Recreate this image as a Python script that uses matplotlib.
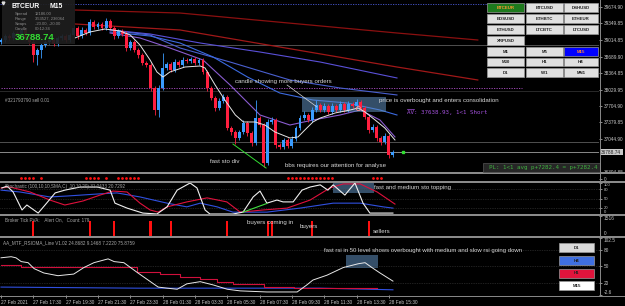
import matplotlib
matplotlib.use("Agg")
import matplotlib.pyplot as plt
from matplotlib.patches import Rectangle
import numpy as np

plt.rcParams['font.family'] = ['Liberation Sans', 'DejaVu Sans']

# ---------------- data ----------------
# BTCEUR M15 candles, 27 Feb 15:30 -> 28 Feb 15:45
first_open = 38979
closes = [39019, 39098, 39059, 39158, 39118, 39218, 39059, 38979, 38721, 38820,
          38919, 38979, 39019, 38939, 39059, 39098, 39019, 39118, 39257, 39098,
          39218, 39158, 39377, 39277, 39337, 39257, 39396, 39257, 39098, 39198,
          39138, 38860, 38979, 38820, 38721, 38562, 38522, 38065, 37627, 38065,
          38462, 38542, 38422, 38581, 38522, 38621, 38601, 38641, 38562, 38621,
          38383, 38065, 37866, 37667, 37806, 37886, 37269, 37190, 37071, 37190,
          37369, 37170, 36971, 37468, 37329, 36574, 37389, 37428, 36931, 36892,
          37031, 36911, 37051, 37269, 37468, 37528, 37428, 37627, 37727, 37627,
          37707, 37587, 37707, 37627, 37746, 37627, 37746, 37707, 37786, 37667,
          37488, 37230, 37289, 37071, 36991, 37110, 36733, 36789]
wick_up = [40, 40, 40, 40, 40, 40, 40, 40, 60, 40,
           40, 40, 40, 40, 40, 40, 40, 40, 60, 40,
           60, 40, 60, 40, 40, 40, 60, 40, 40, 40,
           40, 60, 40, 40, 40, 40, 40, 40, 40, 60,
           300, 40, 40, 60, 40, 60, 40, 40, 40, 40,
           40, 40, 40, 40, 60, 60, 40, 40, 40, 40,
           60, 40, 40, 360, 40, 40, 60, 60, 40, 40,
           40, 40, 60, 40, 60, 80, 40, 60, 100, 40,
           60, 40, 60, 40, 60, 40, 60, 40, 60, 40,
           40, 40, 60, 40, 40, 60, 40, 40]
wick_dn = [40, 40, 40, 40, 40, 40, 40, 40, 140, 200,
           160, 40, 40, 40, 40, 40, 40, 40, 40, 60,
           40, 40, 40, 40, 40, 40, 40, 40, 60, 40,
           40, 60, 40, 40, 60, 40, 40, 60, 100, 140,
           40, 40, 40, 40, 40, 40, 40, 40, 40, 40,
           40, 60, 40, 60, 40, 40, 40, 60, 120, 40,
           40, 60, 60, 40, 40, 80, 40, 40, 60, 40,
           40, 40, 40, 40, 40, 40, 40, 40, 40, 40,
           40, 40, 40, 40, 40, 40, 40, 40, 40, 40,
           40, 60, 40, 60, 60, 40, 60, 40]

price_ticks = [39674.90, 39349.85, 39014.85, 38689.90, 38364.85, 38029.95,
               37704.90, 37379.85, 37044.90, 36394.85]
time_labels = ['27 Feb 2021', '27 Feb 17:30', '27 Feb 19:30', '27 Feb 21:30',
               '27 Feb 23:30', '28 Feb 01:30', '28 Feb 03:30', '28 Feb 05:30',
               '28 Feb 07:30', '28 Feb 09:30', '28 Feb 11:30', '28 Feb 13:30',
               '28 Feb 15:30']
time_bars = [0, 8, 16, 24, 32, 40, 48, 56, 64, 72, 80, 88, 96]

# moving averages (bar index, price)
ma_fast_x = [18.3, 22, 25.7, 29.5, 32, 34.4, 36.9, 38.6, 40.1, 41.8, 45.5, 49.3, 50.5,
             53, 55.4, 58, 60, 62.9, 65.3, 67.8, 71.5, 73.5, 75.2, 77.2, 79, 82.7,
             86.4, 88.4, 90.1, 92.6, 95, 97.5]
ma_fast_y = [39059, 39178, 39237, 39198, 39118, 38919, 38621, 38383, 38283, 38383,
             38482, 38502, 38462, 38124, 37826, 37528, 37389, 37389, 37329, 37190,
             37071, 37091, 37230, 37389, 37468, 37568, 37627, 37667, 37587, 37428,
             37269, 37031]
ma1_x = [27, 34.4, 41.8, 50, 56.7, 64.1, 71.5, 77.2, 83.9, 88.9, 93.8, 97.5]
ma1_y = [39158, 39059, 38860, 38621, 38124, 37528, 37329, 37428, 37528, 37627, 37428, 37091]
ma2_x = [27, 36.9, 44.3, 52.5, 61, 69, 77.2, 85.6, 93.8, 98]
ma2_y = [39178, 39098, 38959, 38681, 38283, 37965, 37826, 37767, 37627, 37528]
ma3_x = [27, 36.9, 44.3, 56.7, 71.5, 83.9, 98]
ma3_y = [39218, 39118, 38860, 38581, 38224, 38065, 37926]
ma4_x = [27, 36.9, 49.3, 64.1, 79, 98]
ma4_y = [39218, 39138, 38959, 38780, 38581, 38264]
red1_x = [18.3, 44.3, 98, 118]
red1_y = [39615, 39555, 39158, 39019]
red2_x = [18.3, 44.3, 98, 118]
red2_y = [39337, 39218, 38482, 38224]

# red signal dots strip
dot_bars = [5, 6, 7, 8, 10, 21, 22, 23, 24, 26, 29, 30, 31, 32, 33, 34,
            71, 72, 73, 74, 75, 76, 77, 78, 79, 80, 81, 82, 92, 93, 94]

# stochastic
sto_fast_x = [0.2, 1.5, 3, 5.2, 6.4, 9.2, 10.9, 13.4, 15.8, 19.6, 23.8, 27, 28.2, 31.2,
              35.1, 38.6, 41.1, 43.6, 46.8, 48.5, 50.5, 51.7, 57.4, 59.9, 62.4, 64.1,
              65.8, 68.3, 69.8, 72.3, 74.5, 76.5, 79, 80.9, 82.2, 85.1, 87.6, 89.6,
              91.3, 93.8, 97]
sto_fast_y = [84, 90, 71, 13, 29, 3, 29, 68, 77, 87, 87, 77, 35, 19,
              3, 0, 23, 77, 100, 84, 13, 0, 0, 6, 55, 74,
              35, 45, 39, 39, 77, 87, 94, 77, 94, 61, 100, 35,
              3, 3, 3]
sto_med_x = [0, 2.2, 7.2, 12.1, 15.8, 20.3, 24.5, 27.7, 31.2, 34.4, 36.9, 38.9, 41.1,
             46, 51, 55.9, 59.2, 64.9, 70.8, 76.5, 81.4, 84.7, 88.9, 93.1, 97.5]
sto_med_y = [84, 87, 71, 45, 29, 42, 61, 74, 71, 35, 13, 6, 23,
             39, 52, 39, 6, 13, 19, 45, 84, 97, 97, 71, 32]
sto_slow_x = [0, 4.7, 12.1, 16.3, 24.5, 28.7, 34.4, 41.1, 46, 49.3, 53.5, 57.4, 65.8,
              74, 82.2, 88.9, 94.6, 97]
sto_slow_y = [77, 71, 55, 58, 65, 68, 55, 35, 23, 35, 23, 6, 6,
              19, 35, 35, 23, 19]

# broker tick PVA alerts
alert_bars = [8, 22, 28, 37, 42, 56, 66, 67, 77, 91]
alert_vals = [1100, 1100, 1100, 1100, 1100, 1100, 1100, 1100, 1100, 1100]

# RSIOMA
rsi_fast_x = [0, 2.5, 3.7, 5, 6.7, 8.2, 10.6, 14.1, 18, 20.5, 23, 26.5, 28, 30.4, 33.9,
              36.4, 38.9, 41.1, 43.6, 46, 49.3, 52.5, 56, 59.2, 65.8, 73.3, 75.7,
              77.2, 80.7, 84.7, 88.4, 90.1, 91.8, 93.8, 97]
rsi_fast_y = [66, 68, 66, 59, 57, 46, 38, 33, 36, 48, 57, 64, 59, 57, 38,
              25, 12, 10, 8, 18, 22, 16, 8, 5, 3, 3, 16,
              25, 34, 48, 55, 57, 48, 38, 23]
rsi_med_x = [0, 5, 33.7, 39.4, 44.3, 49.3, 53.4, 57.5, 65, 72.4, 93]
rsi_med_y = [53, 49, 40, 36, 31, 27, 21.5, 18, 12, 10, 10]
rsi_slow_x = [0, 33.7, 79, 97]
rsi_slow_y = [12, 10, 10, 7]

# ---------------- figure ----------------
W, H = 625, 306
fig = plt.figure(figsize=(W / 100, H / 100), dpi=100, facecolor='black')
PLOT_R = 599
XL = (-0.25, 148.0)
AX_COL = '#c8c8c8'
FS_AX = 3.4


def px_axes(x0, y0, x1, y1, fs=FS_AX):
    ax = fig.add_axes([x0 / W, 1 - y1 / H, (x1 - x0) / W, (y1 - y0) / H])
    ax.set_facecolor('black')
    for s in ax.spines.values():
        s.set_visible(False)
    ax.set_xlim(*XL)
    ax.set_xticks([])
    ax.yaxis.tick_right()
    ax.tick_params(axis='y', colors=AX_COL, labelsize=fs, length=2, width=0.5, pad=1.5)
    return ax


def edge_labels(ax):
    # MT4 draws the top label below the top edge and the bottom one above it
    labs = ax.get_yticklabels()
    labs[0].set_va('top')
    labs[-1].set_va('bottom')


# main price window
ax = px_axes(0, 0, PLOT_R, 172)
ax.set_ylim(36394.7, 39814)
ax.set_yticks(price_ticks)
ax.set_yticklabels(['%.2f' % v for v in price_ticks])

n = len(closes)
idx = np.arange(n)
opens = np.array([first_open] + closes[:-1], dtype=float)
cl = np.array(closes, dtype=float)
top = np.maximum(opens, cl)
bot = np.minimum(opens, cl)
hi = top + np.array(wick_up)
lo = bot - np.array(wick_dn)
up = cl >= opens
col = np.where(up, '#3a9cff', '#ff1f3f')

# reference lines
ax.axhline(39734, color='#4a5ad8', lw=0.6, ls=(0, (1.5, 1.5)))
ax.axhline(38919, color='#505050', lw=0.7)
ax.axhline(38005, color='#2a2a2a', lw=0.7)
ax.axhline(36991, color='#505050', lw=0.7)
ax.axhline(36789, color='#8a8a8a', lw=0.7)
ax.plot([0, 129], [38065, 38065], color='#b050c8', lw=0.6, ls=(0, (1.5, 1.5)))

# MAs
ax.plot(red1_x, red1_y, color='#8b1010', lw=0.9)
ax.plot(red2_x, red2_y, color='#a01818', lw=0.9)
ax.plot(ma4_x, ma4_y, color='#5a50d8', lw=0.8)
ax.plot(ma3_x, ma3_y, color='#4a60d0', lw=0.8)
ax.plot(ma2_x, ma2_y, color='#3b6ae0', lw=0.8)
ax.plot(ma1_x, ma1_y, color='#8a5cd0', lw=0.8)

# candles
ax.vlines(idx, lo, hi, colors=col, lw=0.6, zorder=3)
ax.bar(idx, np.maximum(top - bot, 10), bottom=bot, width=0.72, color=col, lw=0, zorder=3)
ax.plot(ma_fast_x, ma_fast_y, color='#e6e6e6', lw=0.7, zorder=4)

# annotations
ax.add_patch(Rectangle((74.5, 37587), 20.8, 299, fc='#5f8fbf', alpha=0.55, lw=0, zorder=2))
ax.plot([88.4], [37667], 'o', ms=3, mfc='none', mec='#ff9090', mew=0.6, zorder=5)
ax.plot([70.8, 78.2], [38124, 37687], color='#d8d8d8', lw=0.5, zorder=4)
ax.plot([57.4, 65.6], [36951, 36474], color='#33dd33', lw=0.7, zorder=4)
ax.plot([99.5], [36789], 's', ms=1.5, color='#30e030', zorder=5)
txt = dict(color='#d8d8d8', fontsize=4.4, va='center', ha='left', zorder=6)
ax.text(58, 38184, 'candle showing more buyers orders', **txt)
ax.text(93.6, 37826, 'price is overbought and enters consolidation', **txt)
ax.text(51.7, 36613, 'fast sto div', **txt)
ax.text(70.3, 36514, 'bbs requires our attention for analyse', **txt)
ax.text(100.5, 37568, 'AV: 37638.93, 1<1 Short', color='#a050d8', fontsize=4.2,
        family='DejaVu Sans Mono', va='center', ha='left', zorder=6)
ax.plot([100.5, 102.3], [37646, 37646], color='#a050d8', lw=0.5)
ax.text(1, 37826, '#321793790 sell 0.01', color='#a8a8a8', fontsize=3.3, va='center')

# red dots strip
axd = px_axes(0, 174, PLOT_R, 181)
axd.set_ylim(0, 1)
axd.set_yticks([0.3])
axd.set_yticklabels(['0'])
axd.scatter(dot_bars, [0.5] * len(dot_bars), marker='o', s=4, color='#ff1010', lw=0)

# stochastic
axs = px_axes(0, 183, PLOT_R, 214, fs=3.0)
axs.set_ylim(0, 100)
axs.set_yticks([100, 80, 50, 20, 0])
axs.set_yticklabels(['100', '80', '50', '20', '0'])
edge_labels(axs)
for lv in (80, 50, 20):
    axs.axhline(lv, color='#404040', lw=0.5, ls=(0, (1, 1.5)))
axs.add_patch(Rectangle((82.2, 68), 10, 32, fc='#5f8fbf', alpha=0.55, lw=0))
axs.plot(sto_slow_x, sto_slow_y, color='#3050e0', lw=0.8)
axs.plot(sto_med_x, sto_med_y, color='#e0103c', lw=0.8)
axs.plot(sto_fast_x, sto_fast_y, color='#f0f0f0', lw=0.8)
axs.plot([59.9, 65.8], [6, 34], color='#40e040', lw=0.8)
axs.text(1, 88, 'Stochastic (100,10,10,SMA,C) ,10,10,20) 31.0433 20.7292', color='#a8a8a8',
         fontsize=3.3, va='center')
axs.text(92.2, 84, 'fast and medium sto topping', color='#d8d8d8', fontsize=4.4, va='center')

# broker tick PVA
axb = px_axes(0, 216, PLOT_R, 236)
axb.set_ylim(0, 1516)
axb.set_yticks([1516, 0])
axb.set_yticklabels(['1516', '0'])
edge_labels(axb)
axb.bar(alert_bars, alert_vals, width=0.55, color='#ff1010', lw=0)
axb.text(1, 1250, 'Broker Tick PVA:    Alert On,   Count: 179', color='#a8a8a8',
         fontsize=3.3, va='center')
axb.text(60.8, 1050, 'buyers coming in', color='#d8d8d8', fontsize=4.4, va='center')
axb.text(74, 700, 'buyers', color='#d8d8d8', fontsize=4.4, va='center')
axb.text(92, 350, 'sellers', color='#d8d8d8', fontsize=4.4, va='center')

# RSIOMA
axr = px_axes(0, 238, PLOT_R, 295)
axr.set_ylim(-2.6, 102.5)
axr.set_yticks([102.5, 80, 50, 20, -2.6])
axr.set_yticklabels(['102.5', '80', '50', '20', '-2.6'])
edge_labels(axr)
for lv in (80, 50, 20):
    axr.axhline(lv, color='#404040', lw=0.5, ls=(0, (1, 1.5)))
axr.add_patch(Rectangle((85.4, 48), 8, 24, fc='#5f8fbf', alpha=0.55, lw=0))
axr.plot(rsi_slow_x, rsi_slow_y, color='#3050e0', lw=0.8)
axr.step(rsi_med_x, rsi_med_y, where='post', color='#d0103c', lw=0.8)
axr.plot(rsi_fast_x, rsi_fast_y, color='#e8e8e8', lw=0.7)
axr.text(0.5, 94, 'AA_MTF_RSIOMA_Line V1.02 24.8682 9.1468 7.2220 75.8759', color='#a8a8a8',
         fontsize=3.3, va='center')
axr.text(80, 79, 'fast rsi in 50 level shows overbought with medium and slow rsi going down',
         color='#d8d8d8', fontsize=4.3, va='center')
axr.set_xticks(time_bars)
axr.set_xticklabels(time_labels, ha='left')
axr.tick_params(axis='x', colors=AX_COL, labelsize=FS_AX, length=2, width=0.5, pad=1.5)

# ---------------- overlay (UI) ----------------
ov = fig.add_axes([0, 0, 1, 1], zorder=10)
ov.set_xlim(0, W)
ov.set_ylim(H, 0)
ov.axis('off')
ov.patch.set_alpha(0)

# separators and axis frame
for y0, y1 in [(172, 174), (181, 183), (214, 216), (236, 238)]:
    ov.add_patch(Rectangle((0, y0), W, y1 - y0, fc='#8a8a8a', lw=0))
ov.plot([0, W], [295.5, 295.5], color='#8a8a8a', lw=0.7)
ov.plot([PLOT_R + 0.5, PLOT_R + 0.5], [0, 296], color='#8a8a8a', lw=0.7)

# info box
ov.add_patch(Rectangle((2, 0), 73, 44, fc='#1e1e1e', alpha=0.92, lw=0))
ov.text(12, 6, 'BTCEUR', color='white', fontsize=4.9, weight='bold', va='center')
ov.text(50, 6, 'M15', color='white', fontsize=4.9, weight='bold', va='center')
info = [('Spread', '12186.00'), ('Range', '353527, 236064'), ('Swaps', '-20.00, -20.00'),
        ('Candle', '00:12:34')]
for k, (a, b) in enumerate(info):
    ov.text(15, 14 + 5 * k, a, color='#8c8c8c', fontsize=3.0, va='center')
    ov.text(35, 14 + 5 * k, b, color='#8c8c8c', fontsize=3.0, va='center')
ov.text(15, 37.5, '36788.74', color='#33dd33', fontsize=6.8, weight='bold', va='center')
ov.plot([3], [3], marker='v', ms=2, color='#dddddd')

# current price tag
ov.add_patch(Rectangle((600, 149), 23, 6, fc='#c8c8c8', lw=0))
ov.text(601, 152, '36788.74', color='#202020', fontsize=3.4, va='center')

# PL box
ov.add_patch(Rectangle((483, 163), 117, 9, fc='#262626', ec='#555555', lw=0.5))
ov.text(489, 167.5, 'PL: 1<1 avg p+7282.4 = p+7282.4', color='#3fb03f', fontsize=4.2,
        family='DejaVu Sans Mono', va='center', clip_on=True)

# symbol / timeframe buttons
cols_x = [(487, 524), (526, 563), (564, 598)]


def button(x0, x1, y0, y1, label, fc='#e0e0e0', tc='#202020'):
    ov.add_patch(Rectangle((x0, y0), x1 - x0, y1 - y0, fc=fc, ec='#9a9a9a', lw=0.5))
    ov.text((x0 + x1) / 2, (y0 + y1) / 2 + 0.3, label, color=tc, fontsize=3.2,
            weight='bold', ha='center', va='center')


sym_rows = [['BTCEUR', 'BTCUSD', 'DSHUSD'], ['EOSUSD', 'ETHBTC', 'ETHEUR'],
            ['ETHUSD', 'LTCBTC', 'LTCUSD'], ['XRPUSD']]
row_y = [(3, 12), (14, 22.5), (25, 33.5), (36, 44.5)]
for r, row in enumerate(sym_rows):
    for c, lab in enumerate(row):
        if lab == 'BTCEUR':
            button(*cols_x[c], *row_y[r], lab, fc='#1d7a1d', tc='#ff9a30')
        else:
            button(*cols_x[c], *row_y[r], lab)
tf_rows = [['M1', 'M5', 'M15'], ['M30', 'H1', 'H4'], ['D1', 'W1', 'MN1']]
tf_y = [(47, 56), (57.5, 66), (68, 77)]
for r, row in enumerate(tf_rows):
    for c, lab in enumerate(row):
        if lab == 'M15':
            button(*cols_x[c], *tf_y[r], lab, fc='#0000ff', tc='#ff8a30')
        else:
            button(*cols_x[c], *tf_y[r], lab)

# RSI timeframe legend buttons
for (y0, y1), lab, fc in [((243, 252), 'D1', '#d8d8d8'), ((256, 265), 'H4', '#3f6fe0'),
                          ((268.5, 277.5), 'H1', '#e0143c'), ((281, 290), 'M15', '#ffffff')]:
    button(559, 594, y0, y1, lab, fc=fc)

fig.savefig('out.png', dpi=100, facecolor='black')
